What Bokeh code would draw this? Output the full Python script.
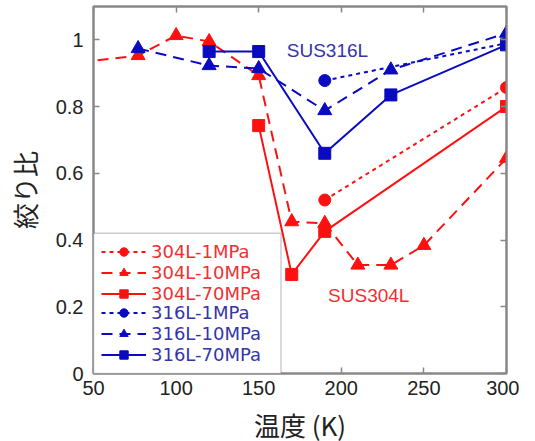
from bokeh.plotting import figure
from bokeh.models import (LinearAxis, FixedTicker, CustomJSTickFormatter, Legend,
                          LegendItem, Label, BoxAnnotation, Range1d)
from bokeh.embed import file_html
from bokeh.resources import INLINE

# ---- data ----
temp_304_1 = [190, 300]
ratio_304_1 = [0.52, 0.857]
temp_304_10 = [20, 77, 100, 120, 150, 170, 190, 210, 230, 250, 300]
ratio_304_10 = [0.92, 0.953, 1.013, 0.995, 0.893, 0.455, 0.45, 0.325, 0.325, 0.384, 0.645]
temp_304_70 = [150, 170, 190, 300]
ratio_304_70 = [0.743, 0.297, 0.426, 0.80]
temp_316_1 = [190, 300]
ratio_316_1 = [0.878, 0.99]
temp_316_10 = [77, 120, 150, 190, 230, 300]
ratio_316_10 = [0.974, 0.923, 0.914, 0.788, 0.91, 1.02]
temp_316_70 = [120, 150, 190, 230, 300]
ratio_316_70 = [0.965, 0.965, 0.66, 0.835, 0.985]

labels_304 = ["304L-1MPa", "304L-10MPa", "304L-70MPa"]
labels_316 = ["316L-1MPa", "316L-10MPa", "316L-70MPa"]
x_ticks = [50, 100, 150, 200, 250, 300]
y_ticks = [0, 0.2, 0.4, 0.6, 0.8, 1.0]

RED = "#ff1010"
BLUE = "#0a0ac0"
RED_TXT = "#f03030"
BLUE_TXT = "#3535a8"
AX = "#888888"

p = figure(frame_width=413, frame_height=367,
           x_range=Range1d(50, 300), y_range=Range1d(0, 1.1),
           output_backend="svg", toolbar_location=None,
           min_border_left=93, min_border_right=13, min_border_top=6,
           min_border_bottom=10)
p.grid.visible = False
p.outline_line_color = AX
p.outline_line_width = 2
p.background_fill_color = "white"

# main axes
p.xaxis.ticker = FixedTicker(ticks=x_ticks)
p.yaxis.ticker = FixedTicker(ticks=y_ticks)
p.yaxis.formatter = CustomJSTickFormatter(code="return Number(tick.toFixed(1)).toString();")
for ax in (p.xaxis, p.yaxis):
    ax.major_tick_in = 6
    ax.major_tick_out = 0
    ax.minor_tick_line_color = None
    ax.axis_line_color = AX
    ax.axis_line_width = 2
    ax.major_tick_line_color = AX
    ax.major_tick_line_width = 1.5
    ax.major_label_text_font = "Liberation Sans"
    ax.major_label_text_font_size = "20px"
    ax.major_label_text_color = "#222222"
    ax.axis_label_text_font = "Noto Sans CJK JP"
    ax.axis_label_text_font_style = "normal"
    ax.axis_label_text_font_size = "26px"
    ax.axis_label_text_color = "#222222"
p.xaxis.axis_label = "温度 (K)"
p.yaxis.axis_label = "絞り比"
p.xaxis.major_label_standoff = 7
p.xaxis.axis_label_standoff = 8
p.yaxis.major_label_standoff = 10
p.yaxis.axis_label_standoff = 10

# mirror axes (ticks only, labels not drawn)
for loc, tk in (("above", x_ticks), ("right", y_ticks)):
    a = LinearAxis(ticker=FixedTicker(ticks=tk))
    a.major_tick_in = 6
    a.major_tick_out = 0
    a.minor_tick_line_color = None
    a.axis_line_color = AX
    a.axis_line_width = 2
    a.major_tick_line_color = AX
    a.major_tick_line_width = 1.5
    a.major_label_text_font_size = "1px"
    a.major_label_text_color = None
    a.major_label_standoff = 0
    p.add_layout(a, loc)

# ---- series ----
def series(xs, ys, color, dash, marker, size):
    ln = p.line(xs, ys, line_color=color, line_width=2, line_dash=dash)
    sc = p.scatter(xs, ys, marker=marker, size=size, fill_color=color,
                   line_color=color)
    return [ln, sc]

r304_1 = series(temp_304_1, ratio_304_1, RED, "4 4", "circle", 12)
r304_10 = series(temp_304_10, ratio_304_10, RED, "11 7", "triangle", 14)
r304_70 = series(temp_304_70, ratio_304_70, RED, "solid", "square", 12)
r316_1 = series(temp_316_1, ratio_316_1, BLUE, "4 4", "circle", 12)
r316_10 = series(temp_316_10, ratio_316_10, BLUE, "11 7", "triangle", 14)
r316_70 = series(temp_316_70, ratio_316_70, BLUE, "solid", "square", 12)

# ---- annotations ----
p.add_layout(Label(x=167, y=0.968, text="SUS316L", text_color=BLUE_TXT,
                   text_font="Liberation Sans", text_font_size="19px",
                   text_baseline="middle", text_align="left"))
p.add_layout(Label(x=192, y=0.234, text="SUS304L", text_color=RED_TXT,
                   text_font="Liberation Sans", text_font_size="19px",
                   text_baseline="middle", text_align="left"))

# legend box
p.add_layout(BoxAnnotation(left=50, right=163.5, bottom=0, top=0.42,
                           fill_color="white", fill_alpha=1.0,
                           line_color="#555555", line_width=1.5))

def make_legend(labels, rends, color, loc):
    items = [LegendItem(label=l, renderers=r) for l, r in zip(labels, rends)]
    lg = Legend(items=items, location=loc, margin=0, padding=8, spacing=0,
                glyph_width=45, glyph_height=21, label_height=21,
                label_standoff=5, label_text_color=color,
                label_text_font="DejaVu Sans", label_text_font_size="18px",
                border_line_alpha=0, background_fill_alpha=0)
    return lg

p.add_layout(make_legend(labels_304, [r304_1, r304_10, r304_70], RED_TXT, (0, 61)), "center")
p.add_layout(make_legend(labels_316, [r316_1, r316_10, r316_70], BLUE_TXT, (0, 0)), "center")

open("out.html", "w").write(file_html(p, INLINE))
